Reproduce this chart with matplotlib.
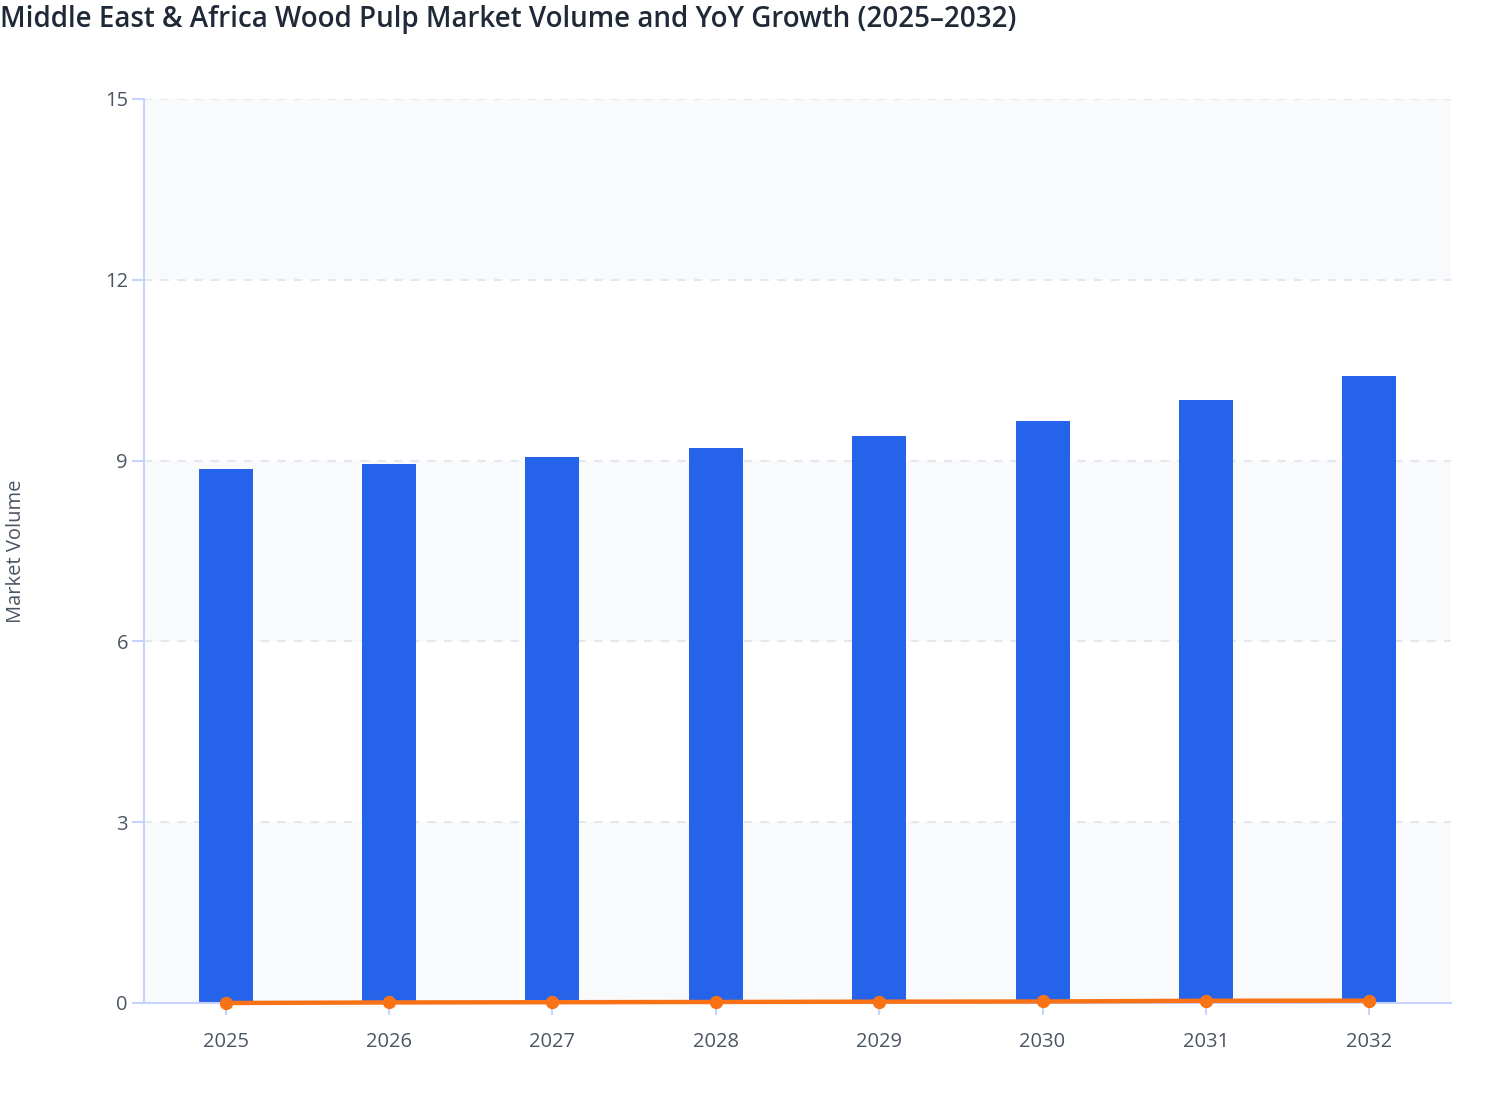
import matplotlib.pyplot as plt
import numpy as np

plt.rcParams['font.family'] = ['Open Sans', 'DejaVu Sans']

years = ['2025', '2026', '2027', '2028', '2029', '2030', '2031', '2032']
volume = [8.86, 8.94, 9.06, 9.21, 9.41, 9.65, 10.01, 10.40]
yoy_growth = [0.0, 0.009, 0.013, 0.017, 0.022, 0.025, 0.037, 0.039]
y_ticks = [0, 3, 6, 9, 12, 15]

x = np.arange(len(years))

fig = plt.figure(figsize=(15.08, 11.2), dpi=100)
ax = fig.add_axes([144 / 1508, 1 - 1003 / 1120, (1451 - 144) / 1508, (1003 - 99) / 1120])

# alternating background bands
for lo, hi in zip(y_ticks[:-1], y_ticks[1:]):
    if (lo // 3) % 2 == 0:
        ax.axhspan(lo, hi, color='#F8FAFC', zorder=0, lw=0)

for t in y_ticks[1:]:
    ax.axhline(t, color='#E2E8F0', lw=1.5, ls=(0, (4, 4)), zorder=1)

ax.bar(x, volume, width=0.33, color='#2563EB', zorder=2)
ax.plot(x, yoy_growth, color='#F97316', lw=3.2, marker='o', markersize=8.6,
        zorder=5, clip_on=False)

ax.set_xlim(-0.5, 7.5)
ax.set_ylim(0, 15)
ax.set_xticks(x)
ax.set_xticklabels(years)
ax.set_yticks(y_ticks)

for s in ['top', 'right']:
    ax.spines[s].set_visible(False)
for s in ['left', 'bottom']:
    ax.spines[s].set_color('#C7D2FE')
    ax.spines[s].set_linewidth(1.5)
    ax.spines[s].set_zorder(4)

ax.tick_params(axis='both', colors='#C7D2FE', length=8.6, width=1.5,
               labelcolor='#4B5563', labelsize=14.5)
ax.tick_params(axis='x', pad=12)
ax.tick_params(axis='y', pad=3)

fig.text(16 / 1508, 1 - 551 / 1120, 'Market Volume', rotation=90,
         ha='center', va='center', fontsize=14.5, color='#4B5563')
fig.text(0, 1 - 19 / 1120, 'Middle East & Africa Wood Pulp Market Volume and YoY Growth (2025\u20132032)',
         ha='left', va='center', fontsize=20, fontweight='semibold', color='#1F2937')

fig.savefig('out.png', dpi=100)
